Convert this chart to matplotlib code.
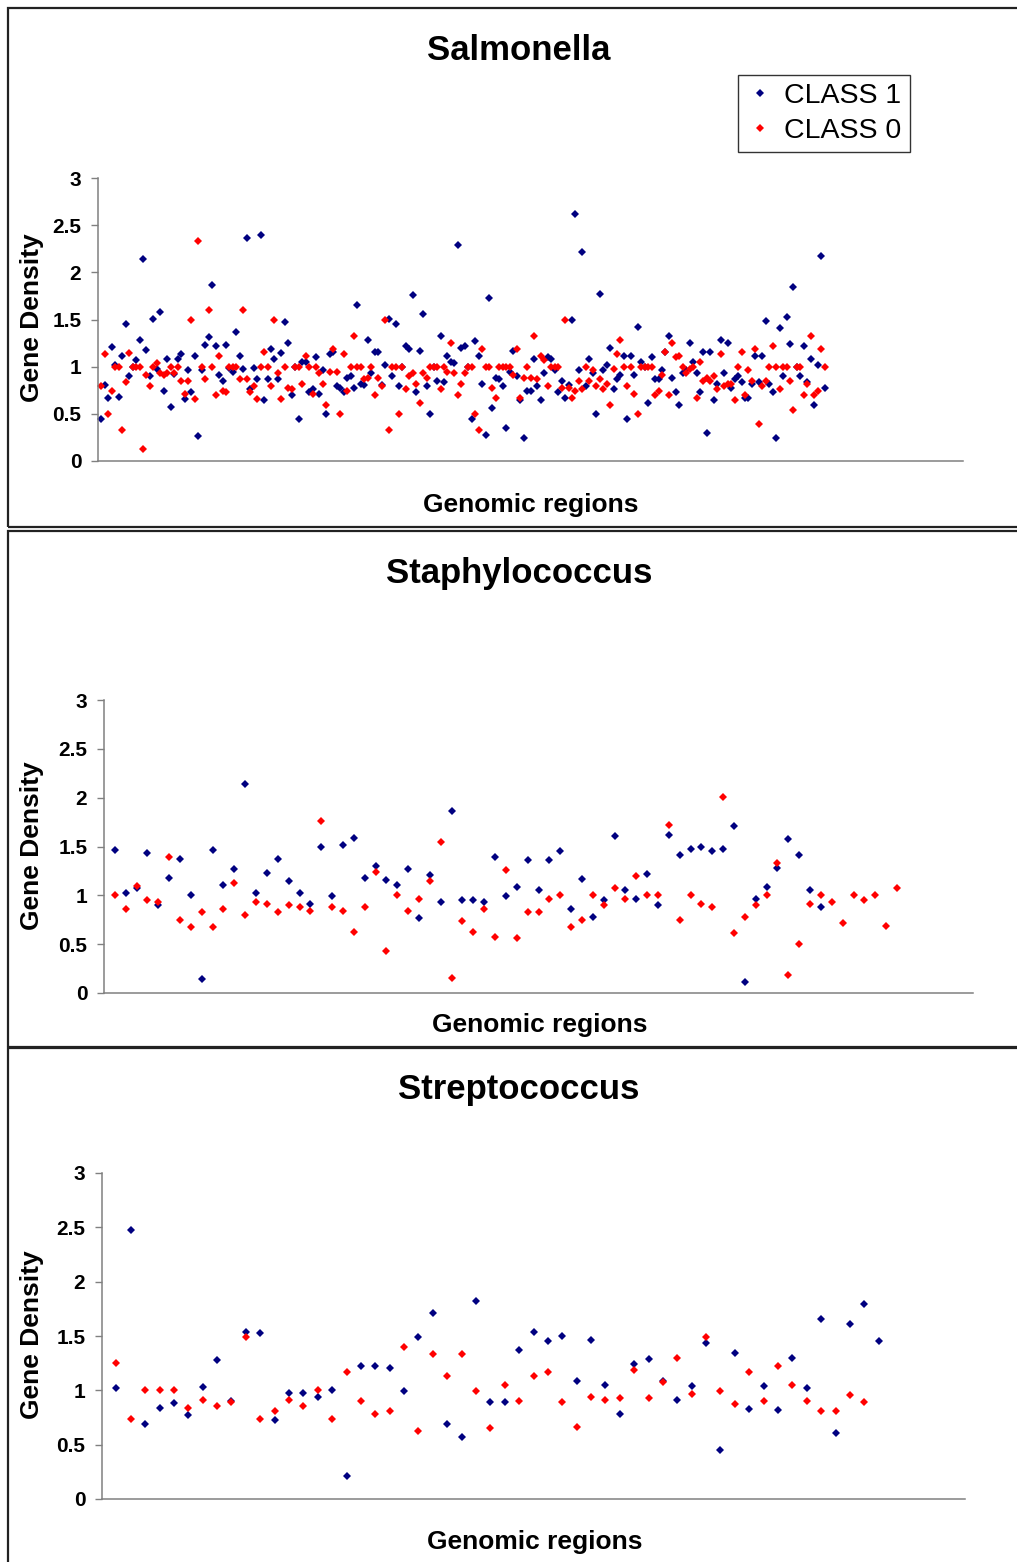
import matplotlib
matplotlib.use("Agg")
import matplotlib.pyplot as plt
import numpy as np
from matplotlib.patches import Rectangle

plt.rcParams['font.family'] = ['Liberation Sans', 'DejaVu Sans']

# Salmonella values
salm_class1 = [0.44, 0.81, 0.67, 1.21, 1.02, 0.68, 1.11, 1.45, 0.90, 1.00, 1.07, 1.28, 2.14, 1.18, 0.90, 1.51,
               0.97, 1.58, 0.74, 1.08, 0.57, 0.92, 1.08, 1.13, 0.66, 0.96, 0.73, 1.11, 0.27, 0.96, 1.23, 1.31,
               1.87, 1.22, 0.91, 0.85, 1.23, 0.99, 0.94, 1.37, 1.11, 0.97, 2.36, 0.76, 0.99, 0.87, 2.40, 0.65,
               0.87, 1.19, 1.08, 0.87, 1.14, 1.47, 1.25, 0.70, 1.00, 0.44, 1.05, 1.05, 0.73, 0.76, 1.10, 0.71,
               0.96, 0.50, 1.13, 1.16, 0.79, 0.77, 0.73, 0.88, 0.90, 0.77, 1.65, 0.82, 0.81, 1.28, 0.93, 1.16,
               1.16, 0.81, 1.02, 1.51, 0.90, 1.45, 0.79, 1.00, 1.22, 1.19, 1.76, 0.73, 1.17, 1.56, 0.79, 0.50,
               1.00, 0.85, 1.33, 0.84, 1.11, 1.05, 1.04, 2.29, 1.20, 1.22, 1.00,
               0.44, 1.27, 1.11, 0.82, 0.28, 1.73, 0.56, 0.88, 0.87, 0.79, 0.35, 0.94, 1.17, 0.90, 0.65, 0.24,
               0.74, 0.74, 1.08, 0.79, 0.65, 0.93, 1.10, 1.08, 0.96, 0.73, 0.85, 0.67, 0.81, 1.50, 2.62, 0.96,
               2.22, 0.79, 1.08, 0.93, 0.50, 1.77, 0.96, 1.02, 1.20, 0.76, 0.87, 0.91, 1.11, 0.44, 1.11, 0.91,
               1.42, 1.05, 1.00, 0.62, 1.10, 0.87, 0.87, 0.96, 1.16, 1.33, 0.88, 0.73, 0.59, 0.93, 0.96, 1.25,
               1.05, 0.93, 0.73, 1.16, 0.30, 1.16, 0.65, 0.82, 1.28, 0.93, 1.25, 0.77, 0.87, 0.90, 0.84, 0.67,
               0.67, 0.82, 1.11, 0.84, 1.11, 1.48, 0.82, 0.73, 0.24, 1.41, 0.90, 1.53, 1.24, 1.84, 1.00, 0.90,
               1.22, 0.84, 1.08, 0.59, 1.02, 2.17, 0.77]
salm_class0 = [0.79, 1.13, 0.50, 0.74, 1.00, 1.00, 0.33, 0.84, 1.14, 1.00, 1.00, 1.00, 0.13, 0.91, 0.79, 1.00,
               1.04, 0.93, 0.91, 0.93, 1.00, 0.93, 1.00, 0.85, 0.71, 0.85, 1.50, 0.66, 2.33, 1.00, 0.87, 1.60,
               1.00, 0.70, 1.11, 0.74, 0.73, 1.00, 1.00, 1.00, 0.87, 1.60, 0.87, 0.73, 0.79, 0.66, 1.00, 1.16,
               1.00, 0.79, 1.50, 0.93, 0.66, 1.00, 0.77, 0.76, 1.00, 1.00, 0.82, 1.11, 1.00, 0.71, 1.00, 0.93,
               0.82, 0.59, 0.94, 1.19, 0.94, 0.50, 1.13, 0.74, 1.00, 1.33, 1.00, 1.00, 0.87, 0.88, 1.00, 0.70,
               0.88, 0.79, 1.50, 0.33, 1.00, 1.00, 0.50, 1.00, 0.76, 0.90, 0.93, 0.82, 0.62, 0.93, 0.88, 1.00,
               1.00, 1.00, 0.76, 1.00, 0.94, 1.25, 0.93, 0.70, 0.82, 0.93, 1.00,
               1.00, 0.50, 0.33, 1.19, 1.00, 1.00, 0.77, 0.67, 1.00, 1.00, 1.00, 1.00, 0.91, 1.19, 0.67, 0.88,
               1.00, 0.88, 1.33, 0.87, 1.11, 1.07, 0.79, 1.00, 1.00, 1.00, 0.77, 1.50, 0.77, 0.67, 0.74, 0.85,
               0.76, 1.00, 0.85, 0.96, 0.79, 0.87, 0.76, 0.82, 0.59, 0.98, 1.13, 1.28, 1.00, 0.79, 1.00, 0.71,
               0.50, 1.00, 1.00, 1.00, 1.00, 0.70, 0.74, 0.91, 1.16, 0.70, 1.25, 1.10, 1.11, 1.00, 0.93, 0.98,
               1.00, 0.67, 1.05, 0.85, 0.88, 0.85, 0.90, 0.76, 1.13, 0.79, 0.82, 0.82, 0.65, 1.00, 1.16, 0.70,
               0.96, 0.85, 1.19, 0.39, 0.79, 0.85, 1.00, 1.22, 1.00, 0.76, 1.00, 1.00, 0.85, 0.54, 1.00, 1.00,
               0.70, 0.82, 1.33, 0.70, 0.74, 1.19, 1.00]

# Staphylococcus
staph_class1 = [1.46, 1.02, 1.07, 1.43, 0.90, 1.18, 1.37, 1.00, 0.14, 1.46, 1.11, 1.27, 2.14, 1.02, 1.23, 1.37,
                1.15, 1.02, 0.91, 1.49, 0.99, 1.52, 1.59, 1.18, 1.30, 1.16, 1.11, 1.27, 0.77, 1.21, 0.93, 1.86,
                0.95, 0.95, 0.93, 1.39, 0.99, 1.09, 1.36, 1.05, 1.36, 1.45, 0.86, 1.17, 0.78, 0.95, 1.61, 1.05,
                0.96, 1.22, 0.90, 1.62, 1.41, 1.47, 1.49, 1.45, 1.47, 1.71, 0.11, 0.96, 1.09, 1.28, 1.58, 1.41,
                1.05, 0.88]
staph_class0 = [1.00, 0.86, 1.10, 0.95, 0.93, 1.39, 0.75, 0.68, 0.83, 0.68, 0.86, 1.13, 0.80, 0.93, 0.91, 0.83,
                0.90, 0.88, 0.84, 1.76, 0.88, 0.84, 0.62, 0.88, 1.24, 0.43, 1.00, 0.84, 0.96, 1.15, 1.55, 0.15,
                0.74, 0.62, 0.86, 0.57, 1.26, 0.56, 0.83, 0.83, 0.96, 1.00, 0.68, 0.75, 1.00, 0.90, 1.07, 0.96,
                1.20, 1.00, 1.00, 1.72, 0.75, 1.00, 0.91, 0.88, 2.01, 0.61, 0.78, 0.90, 1.00, 1.33, 0.18, 0.50,
                0.91, 1.00, 0.93, 0.72, 1.00, 0.95, 1.00, 0.69, 1.07]

# Streptococcus
strep_class1 = [1.02, 2.48, 0.69, 0.84, 0.88, 0.77, 1.03, 1.28, 0.90, 1.54, 1.53, 0.73, 0.98, 0.98, 0.94, 1.00,
                0.21, 1.22, 1.22, 1.21, 0.99, 1.49, 1.71, 0.69, 0.57, 1.82, 0.89, 0.89, 1.37, 1.54, 1.45, 1.50,
                1.09, 1.46, 1.05, 0.78, 1.24, 1.29, 1.09, 0.91, 1.04, 1.44, 0.45, 1.34, 0.83, 1.04, 0.82, 1.30,
                1.02, 1.66, 0.61, 1.61, 1.79, 1.45]
strep_class0 = [1.25, 0.74, 1.00, 1.00, 1.00, 0.84, 0.91, 0.86, 0.89, 1.49, 0.74, 0.81, 0.91, 0.86, 1.00, 0.74,
                1.17, 0.90, 0.78, 0.81, 1.40, 0.63, 1.33, 1.13, 1.33, 0.99, 0.65, 1.05, 0.90, 1.13, 1.17, 0.89,
                0.66, 0.94, 0.91, 0.93, 1.19, 0.93, 1.08, 1.30, 0.97, 1.49, 0.99, 0.87, 1.17, 0.90, 1.22, 1.05,
                0.90, 0.81, 0.81, 0.96, 0.89]

titles = ['Salmonella', 'Staphylococcus', 'Streptococcus']
W, H = 1017, 1562

fig = plt.figure(figsize=(W / 100, H / 100), dpi=100)


def fx(px):
    return px / W


def fy(py):
    return 1 - py / H


def make_panel(c1, c0, x0, x1, ybot, ytop, xmax):
    ax = fig.add_axes([fx(x0), fy(ybot), fx(x1 - x0), (ybot - ytop) / H])
    ax.plot(np.arange(1, len(c1) + 1), c1, 'D', color='#000080', markersize=4.0,
            markeredgewidth=0, clip_on=False, label='CLASS 1')
    ax.plot(np.arange(1, len(c0) + 1), c0, 'D', color='#ff0000', markersize=4.0,
            markeredgewidth=0, clip_on=False, label='CLASS 0')
    ax.set_xlim(0, xmax)
    ax.set_ylim(0, 3)
    ax.set_yticks([0, 0.5, 1, 1.5, 2, 2.5, 3])
    ax.set_yticklabels(['0', '0.5', '1', '1.5', '2', '2.5', '3'], fontsize=15, fontweight='bold')
    ax.set_xticks([])
    for s in ['top', 'right']:
        ax.spines[s].set_visible(False)
    ax.spines['left'].set_color('#808080')
    ax.spines['bottom'].set_color('#808080')
    ax.spines['left'].set_linewidth(1.1)
    ax.spines['bottom'].set_linewidth(1.1)
    ax.tick_params(axis='y', direction='out', length=5, width=1, color='#808080', pad=7)
    return ax


ax1 = make_panel(salm_class1, salm_class0, 98, 963, 461, 178, 250)
ax2 = make_panel(staph_class1, staph_class0, 104, 973, 993, 700, 80)
ax3 = make_panel(strep_class1, strep_class0, 102, 965, 1499, 1173, 60)

# titles and labels
title_pos = [(519, 50), (519, 573), (519, 1090)]
xlab_pos = [(531, 505), (540, 1025), (535, 1542)]
ylab_pos = [(32, 318), (32, 846), (32, 1335)]
for t, (tx, ty), (lx, ly), (gx, gy) in zip(titles, title_pos, xlab_pos, ylab_pos):
    fig.text(fx(tx), fy(ty), t, fontsize=25, fontweight='bold', ha='center', va='center')
    fig.text(fx(lx), fy(ly), 'Genomic regions', fontsize=19, fontweight='bold', ha='center', va='center')
    fig.text(fx(gx), fy(gy), 'Gene Density', fontsize=19, fontweight='bold', ha='center', va='center',
             rotation=90)

leg = ax1.legend(loc='upper left', bbox_to_anchor=(fx(738), fy(75)), bbox_transform=fig.transFigure,
                 fontsize=20.5, frameon=True, fancybox=False, edgecolor='black', handlelength=1.0,
                 handletextpad=0.35, borderpad=0.28, labelspacing=0.33, borderaxespad=0, markerscale=0.9)
leg.get_frame().set_linewidth(1.0)

# panel frames
frames = [(8, 8, 527), (8, 531, 1047), (8, 1048, 1575)]
for left, top, bottom in frames:
    fig.add_artist(Rectangle((fx(left), fy(bottom)), fx(1030 - left), (bottom - top) / H,
                             transform=fig.transFigure, fill=False, edgecolor='#222222',
                             linewidth=1.6, clip_on=False))

fig.savefig('out.png', dpi=100)
